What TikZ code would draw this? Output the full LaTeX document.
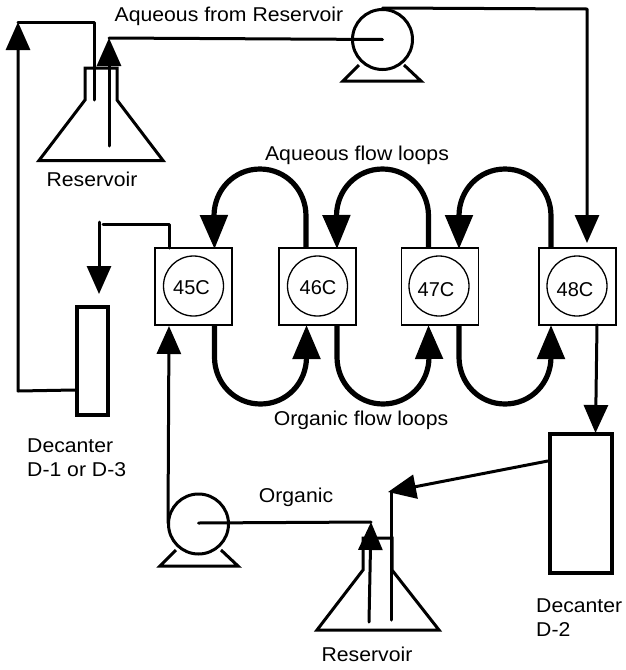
\documentclass[tikz,border=0pt]{standalone}
\usepackage{fontspec}
\setmainfont{Liberation Sans}
\newfontfamily\widefont[FakeStretch=1.06]{Liberation Sans}
\usetikzlibrary{arrows.meta,calc}
\tikzset{
  pipe/.style={line width=3pt,line cap=round,line join=round},
  head/.style={-{Triangle[length=28pt,width=24pt]}},
  loopline/.style={line width=5.2pt,-{Triangle[length=34pt,width=27pt]}},
  vessel/.style={line width=3pt,line join=miter},
  decanter/.style={draw,line width=4.4pt,fill=white,inner sep=0pt},
  cell/.style={draw,line width=1.3pt,minimum size=77pt,inner sep=0pt},
  disc/.style={circle,draw,line width=1.3pt,minimum size=60pt,inner sep=0pt},
  pumpdisc/.style={circle,draw,line width=3pt,minimum size=60pt,inner sep=0pt},
  lbl/.style={font=\widefont\fontsize{20}{24}\selectfont,inner sep=0pt},
  lbltwo/.style={lbl,align=left,anchor=west},
  temp/.style={font=\fontsize{20}{24}\selectfont,inner sep=0pt}
}
\newcommand{\looptop}[2]{\draw[loopline] (#1) -- ($(#1)+(0,-32)$)
  .. controls ($(#1)+(0,-58)$) and ($(#1)+(-20,-79)$) .. ($(#1)+(-46,-79)$)
  .. controls ($(#1)+(-72,-79)$) and ($(#1)+(-92,-58)$) .. ($(#1)+(-92,-32)$) -- (#2);}
\newcommand{\loopbot}[2]{\draw[loopline] (#1) -- ($(#1)+(0,32)$)
  .. controls ($(#1)+(0,58)$) and ($(#1)+(20,79)$) .. ($(#1)+(46,79)$)
  .. controls ($(#1)+(72,79)$) and ($(#1)+(92,58)$) .. ($(#1)+(92,32)$) -- (#2);}
\begin{document}
\begin{tikzpicture}[x=1pt,y=-1pt]
\useasboundingbox[fill=white] (0,0) rectangle (626,670);
% cells
\node[cell] (c45) at (193.5,286.5) {};
\node[cell] (c46) at (317.5,286.5) {};
\node[cell] (c47) at (440,286.5) {};
\node[cell] (c48) at (577.5,286.5) {};
\node[disc] (d45) at (193.5,286) {};
\node[disc] (d46) at (317.5,286) {};
\node[disc] (d47) at (439,286) {};
\node[disc] (d48) at (577,286) {};
\node[temp] (t45) at (191.5,288) {45C};
\node[temp] (t46) at (318,288) {46C};
\node[temp] (t47) at (436,290) {47C};
\node[temp] (t48) at (575,290) {48C};
% ports
\coordinate (o45t) at (169,248);
\coordinate (i45t) at (214.5,249);
\coordinate (o46t) at (306,248);
\coordinate (i46t) at (337,249);
\coordinate (o47t) at (428.5,248);
\coordinate (i47t) at (459,249);
\coordinate (o48t) at (551,248);
\coordinate (i48t) at (587,243);
\coordinate (o45b) at (214.5,325);
\coordinate (i46b) at (306.5,325);
\coordinate (o46b) at (337,325);
\coordinate (i47b) at (428.5,325);
\coordinate (o47b) at (459,325);
\coordinate (i48b) at (551,325);
\coordinate (o48b) at (597,325);
\coordinate (i45b) at (169,326);
\looptop{o46t}{i45t}
\looptop{o47t}{i46t}
\looptop{o48t}{i47t}
\loopbot{o45b}{i46b}
\loopbot{o46b}{i47b}
\loopbot{o47b}{i48b}
% upper flask
\coordinate (fa1) at (39,160.5);
\coordinate (fa2) at (163,160.5);
\draw[vessel] (fa1) -- (85,100) -- (85,68) -- (117,68) -- (117,100) -- (fa2) -- cycle;
% lower flask
\coordinate (fb1) at (317,630);
\coordinate (fb2) at (439,630);
\draw[vessel] (fb1) -- (363,570) -- (363,538) -- (392,538) -- (392,570) -- (fb2) -- cycle;
% pumps
\node[pumpdisc] (p1) at (382.5,39.5) {};
\node[pumpdisc] (p2) at (198.5,524) {};
\draw[vessel] (359,65) -- (343,81) -- (421,81) -- (404,65);
\draw[vessel] (176,550) -- (160,566) -- (238,566) -- (221,550);
% decanters
\node[decanter,minimum width=31pt,minimum height=108pt] (dec1) at (92.5,361) {};
\node[decanter,minimum width=62pt,minimum height=139pt] (dec2) at (581,503.5) {};
% connectors
\coordinate (n1) at (18,22);
\coordinate (n2) at (94,100);
\coordinate (n3) at (18,391);
\draw[pipe] (n2) -- (94,22) -- (n1);
\draw[pipe,head] (dec1.west |- 0,390) -- (n3) -- (n1);
\coordinate (r1in) at (109,38);
\coordinate (r1end) at (109,146);
\draw[pipe,head] (r1end) -- (r1in);
\draw[pipe] (p1.center) -- (r1in);
\draw[pipe,head] (p1.north) -- (587,9) -- (i48t);
\coordinate (g1) at (103,224);
\coordinate (g2) at (99,222);
\coordinate (g3) at (99,294);
\draw[pipe] (o45t) -- (169,224) -- (g1);
\draw[pipe,head] (g2) -- (g3);
\draw[pipe,head] (168,523) -- (i45b);
\coordinate (r2in) at (371,522);
\coordinate (r2end) at (369,622);
\draw[pipe,head] (r2end) -- (r2in);
\draw[pipe] (p2.center) ++(0,-1) -- (r2in);
\coordinate (r2tip) at (388,492);
\coordinate (r2out) at (391,620);
\draw[pipe] (r2out) -- (391,492);
\draw[pipe,head] (dec2.west |- 0,461) -- (r2tip);
\draw[pipe,head] (o48b) -- (595.5,433);
% labels
\node[lbl] (l1) at (229,16) {Aqueous from Reservoir};
\node[lbl] (l2) at (92,179) {Reservoir};
\node[lbl] (l3) at (357,155) {Aqueous flow loops};
\node[lbl] (l4) at (361,420) {Organic flow loops};
\node[lbl] (l5) at (296,497) {Organic};
\node[lbl] (l6) at (367,654) {Reservoir};
\node[lbltwo] (l7) at (27,458) {Decanter\\D-1 or D-3};
\node[lbltwo] (l8) at (536,618) {Decanter\\D-2};
\end{tikzpicture}
\end{document}
